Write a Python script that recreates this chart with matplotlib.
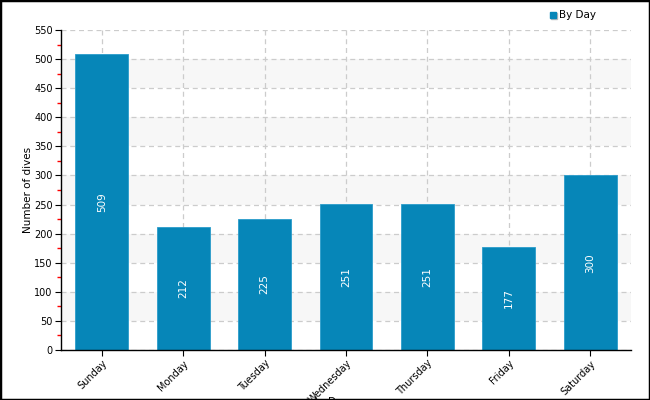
import numpy as np
import matplotlib
matplotlib.use("Agg")
from matplotlib import pyplot as plt
from matplotlib.ticker import MultipleLocator
from matplotlib.patches import Rectangle

days = ["Sunday", "Monday", "Tuesday", "Wednesday", "Thursday", "Friday", "Saturday"]
dives = [509, 212, 225, 251, 251, 177, 300]

bar_color = "#0686b8"
plt.rcParams["font.family"] = "DejaVu Sans"

fig = plt.figure(figsize=(6.5, 4), dpi=100)
ax = fig.add_axes([61/650, 50/400, 570/650, 320/400])

x = np.arange(len(days))
ax.set_xlim(-0.5, len(days) - 0.5)
ax.set_ylim(0, 550)

# alternating bands
for lo in range(50, 550, 100):
    ax.axhspan(lo, lo + 50, color="#f7f7f7", zorder=0, lw=0)

ax.grid(True, color="#cccccc", linestyle=(0, (4, 3)), linewidth=0.9, zorder=1)
ax.set_axisbelow(True)

bars = ax.bar(x, dives, width=0.65, color=bar_color, edgecolor="#2a9ccb",
              linewidth=0.6, zorder=2)
for xi, v in zip(x, dives):
    ax.text(xi, v / 2, str(v), rotation=90, ha="center", va="center",
            color="white", fontsize=7.5, zorder=3)

ax.yaxis.set_major_locator(MultipleLocator(50))
ax.yaxis.set_minor_locator(MultipleLocator(25))
ax.tick_params(axis="both", which="major", length=4, width=0.8, labelsize=7,
               color="black", pad=2)
ax.tick_params(axis="y", which="minor", length=3, color="red", width=1.0)
ax.tick_params(axis="x", which="minor", length=0)
ax.set_xticks(x)
ax.set_xticklabels(days, rotation=45, ha="right", rotation_mode="anchor")

for s in ["top", "right"]:
    ax.spines[s].set_visible(False)
for s in ["left", "bottom"]:
    ax.spines[s].set_linewidth(1.0)

ax.set_ylabel("Number of dives", fontsize=7.5, labelpad=1)
fig.text(0.52, -0.018, "Day", ha="center", va="bottom", fontsize=7.5)

# legend
fig.patches.append(Rectangle((551/650, 1 - 19/400), 6/650, 6/400,
                             transform=fig.transFigure, color="#bbbbbb", zorder=4))
fig.patches.append(Rectangle((550/650, 1 - 18/400), 6/650, 6/400,
                             transform=fig.transFigure, color=bar_color, zorder=5))
fig.text(559/650, 1 - 14.5/400, "By Day", ha="left", va="center", fontsize=7.5)

# outer border
fig.patches.append(Rectangle((0, 0), 1, 1, transform=fig.transFigure,
                             fill=False, edgecolor="black", linewidth=2.5, zorder=10))

fig.savefig("out.png", dpi=100)
